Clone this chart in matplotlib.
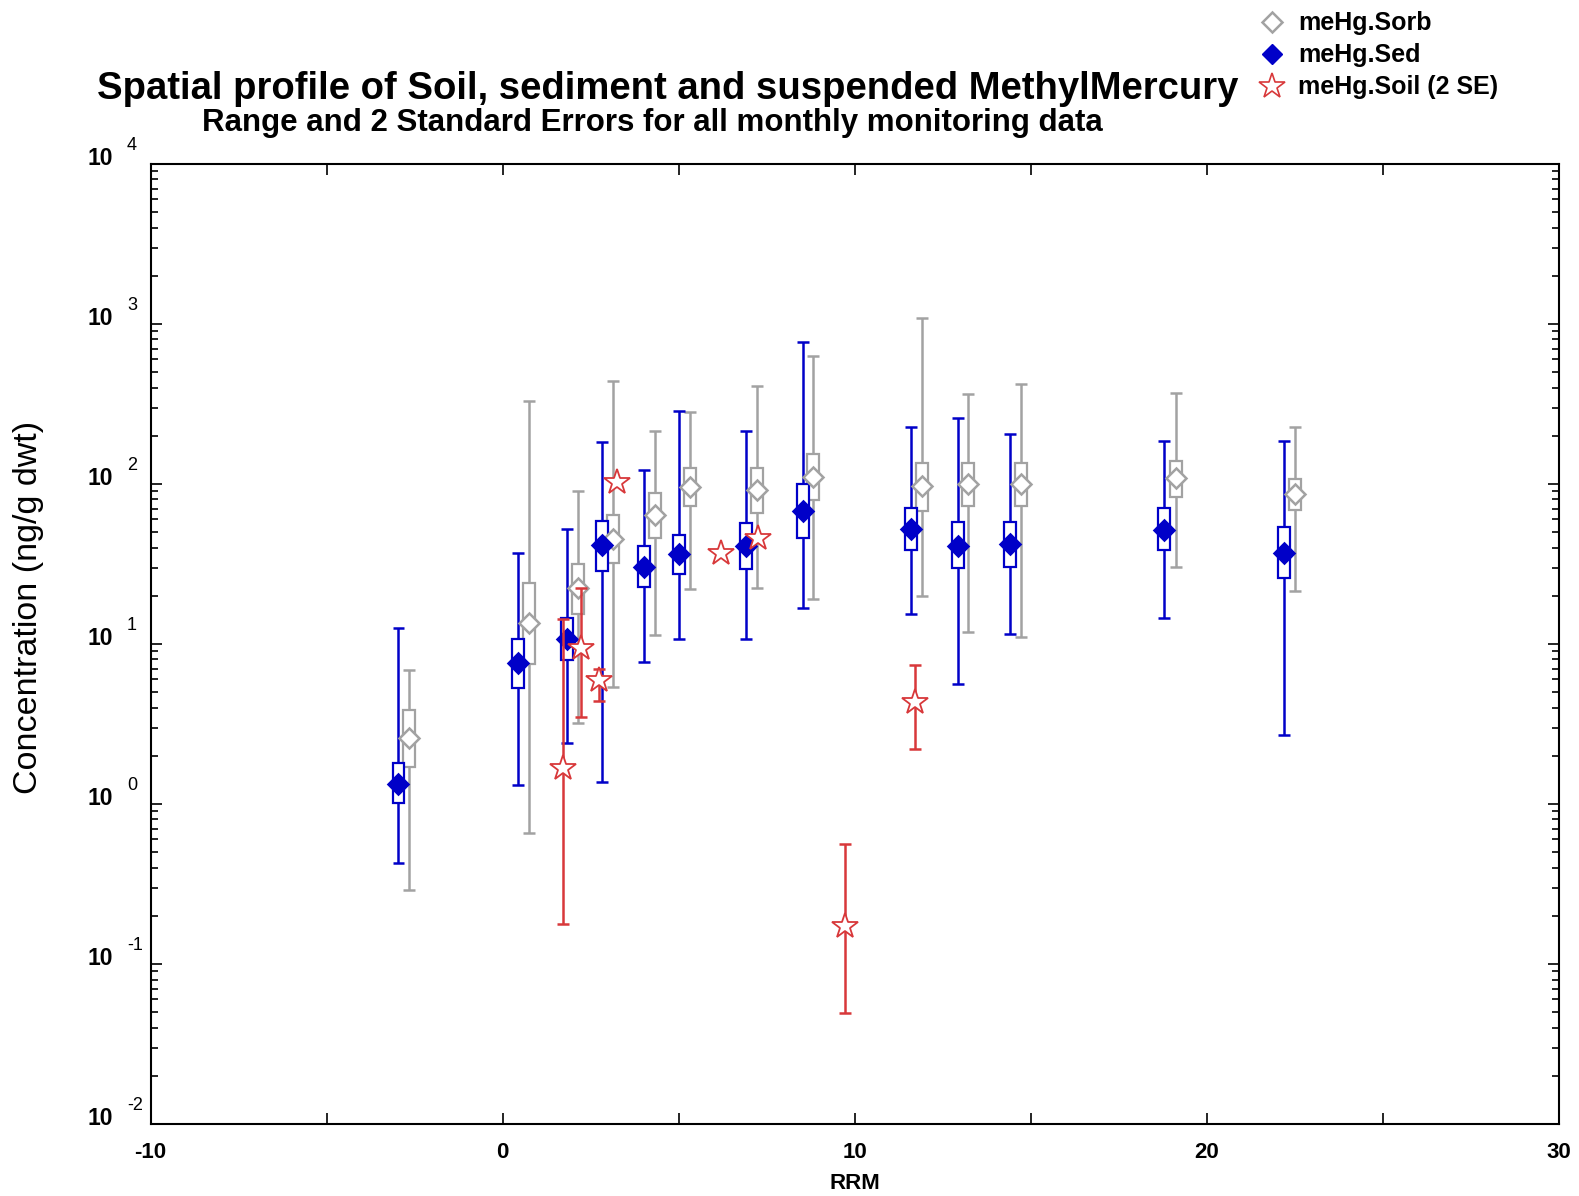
import numpy as np
import matplotlib
matplotlib.use("Agg")
import matplotlib.pyplot as plt
from matplotlib.lines import Line2D

plt.rcParams['font.family'] = ['Liberation Sans', 'DejaVu Sans']

# sediment (blue) : position, median, box, range
sed_x = [-2.96, 0.43, 1.83, 2.81, 4.02, 5.01, 6.90, 8.53, 11.61, 12.92, 14.42, 18.79, 22.19]
sed_med = [1.33, 7.6, 10.7, 41.6, 30.4, 36.3, 41.0, 67.8, 52.0, 41.1, 42.0, 51.6, 37.2]
sed_q1 = [1.01, 5.28, 7.94, 28.7, 22.8, 27.4, 29.3, 45.7, 38.7, 29.7, 30.4, 38.7, 25.7]
sed_q3 = [1.81, 10.8, 14.5, 58.6, 41.0, 48.0, 56.8, 99.6, 70.5, 57.5, 57.5, 70.5, 54.0]
sed_min = [0.43, 1.31, 2.42, 1.37, 7.76, 10.8, 10.8, 16.9, 15.3, 5.6, 11.5, 14.5, 2.7]
sed_max = [12.5, 37, 52, 184, 122, 287, 215, 769, 228, 257, 204, 186, 186]

# sorbed / suspended (grey)
sorb_x = [-2.67, 0.74, 2.13, 3.12, 4.33, 5.32, 7.23, 8.82, 11.91, 13.21, 14.72, 19.11, 22.50]
sorb_med = [2.57, 13.6, 22.3, 45, 64, 96, 91.7, 111, 97, 100, 100, 109, 86]
sorb_q1 = [1.71, 7.5, 15.5, 31.9, 45.7, 72.9, 66, 79.4, 68, 73, 73, 83, 68.8]
sorb_q3 = [3.87, 24.2, 31.6, 64, 87.5, 125, 125, 155, 136, 136, 136, 140, 108]
sorb_min = [0.29, 0.66, 3.22, 5.4, 11.4, 22, 22.3, 19, 20, 11.8, 11.1, 30.4, 21.5]
sorb_max = [6.9, 331, 91, 443, 215, 283, 411, 631, 1096, 365, 422, 372, 228]

# soil (red stars) with 2 SE bars (nan = no bar)
soil_x = [1.72, 2.22, 2.74, 3.26, 6.19, 7.26, 9.72, 11.70]
soil_val = [1.67, 9.4, 5.96, 103, 36.9, 45.7, 0.173, 4.37]
soil_lo = [0.178, 3.5, 4.43, np.nan, np.nan, np.nan, 0.0497, 2.2]
soil_hi = [14.3, 22.3, 7.0, np.nan, np.nan, np.nan, 0.56, 7.4]

blue = '#0000c8'
grey = '#a2a2a2'
red = '#d8383a'

fig = plt.figure(figsize=(15.79, 11.96), dpi=100)
ax = fig.add_axes([0.0954, 0.0602, 0.8919, 0.8027])
ax.set_yscale('log')
ax.set_xlim(-10, 30)
ax.set_ylim(1e-2, 1e4)

box_w = 0.34
cap_w = 0.34


def draw_boxes(xs, med, q1, q3, lo, hi, col, filled):
    xs = np.array(xs)
    ax.vlines(xs, lo, hi, color=col, lw=1.8, zorder=2)
    ax.hlines(lo, xs - cap_w / 2, xs + cap_w / 2, color=col, lw=1.8, zorder=2)
    ax.hlines(hi, xs - cap_w / 2, xs + cap_w / 2, color=col, lw=1.8, zorder=2)
    ax.bar(xs, np.array(q3) - np.array(q1), bottom=q1, width=box_w,
           facecolor='white', edgecolor=col, linewidth=1.6, zorder=3)
    ax.plot(xs, med, 'D', ms=10.5 if not filled else 10, mfc=col if filled else 'white',
            mec=col, mew=1.8, ls='none', zorder=4)


draw_boxes(sorb_x, sorb_med, sorb_q1, sorb_q3, sorb_min, sorb_max, grey, False)
draw_boxes(sed_x, sed_med, sed_q1, sed_q3, sed_min, sed_max, blue, True)

sx = np.array(soil_x)
lo = np.array(soil_lo)
hi = np.array(soil_hi)
ok = ~np.isnan(lo)
ax.vlines(sx[ok], lo[ok], hi[ok], color=red, lw=1.8, zorder=5)
ax.hlines(lo[ok], sx[ok] - cap_w / 2, sx[ok] + cap_w / 2, color=red, lw=1.8, zorder=5)
ax.hlines(hi[ok], sx[ok] - cap_w / 2, sx[ok] + cap_w / 2, color=red, lw=1.8, zorder=5)
ax.plot(sx, soil_val, '*', ms=19, mfc='white', mec=red, mew=1.3, ls='none', zorder=6)

# axes styling
ax.set_xticks(np.arange(-10, 31, 5))
ax.set_xticklabels(['-10', '', '0', '', '10', '', '20', '', '30'],
                   fontsize=16, fontweight='bold')
ax.tick_params(which='both', direction='in', top=True, right=True, width=1.2)
ax.tick_params(which='major', length=8, pad=13)
ax.tick_params(which='minor', length=5)
ax.set_yticklabels([], minor=False)
ax.set_yticklabels([], minor=True)
for s in ax.spines.values():
    s.set_linewidth(1.5)

for e in range(-2, 5):
    ax.annotate('10', xy=(0, 10.0 ** e), xycoords=('axes fraction', 'data'),
                xytext=(-27, -4), textcoords='offset points',
                ha='right', va='bottom', fontsize=16.5, fontweight='bold')
    ax.annotate(str(e), xy=(0, 10.0 ** e), xycoords=('axes fraction', 'data'),
                xytext=(-17, 7), textcoords='offset points',
                ha='left', va='bottom', fontsize=13)

ax.set_xlabel('RRM', fontsize=16, fontweight='bold', labelpad=7)
fig.text(0.018, 1 - 607 / 1196, 'Concentration (ng/g dwt)', rotation=90,
         ha='center', va='center', fontsize=24.5)

fig.text(0.4227, 0.926, 'Spatial profile of Soil, sediment and suspended MethylMercury',
         ha='center', va='center', fontsize=27.5, fontweight='bold')
fig.text(0.413, 0.897, 'Range and 2 Standard Errors for all monthly monitoring data',
         ha='center', va='center', fontsize=22.5, fontweight='bold')

handles = [
    Line2D([], [], marker='D', ls='none', ms=10, mfc='white', mec=grey, mew=1.8),
    Line2D([], [], marker='D', ls='none', ms=10, mfc=blue, mec=blue),
    Line2D([], [], marker='*', ls='none', ms=19, mfc='white', mec=red, mew=1.2),
]
fig.legend(handles, ['meHg.Sorb', 'meHg.Sed', 'meHg.Soil (2 SE)'],
           loc='upper left', bbox_to_anchor=(0.788, 1.003), frameon=False,
           prop={'weight': 'bold', 'size': 18}, handlelength=1.0,
           handletextpad=0.55, labelspacing=0.32, borderaxespad=0.2)

fig.savefig('out.png', dpi=100)
